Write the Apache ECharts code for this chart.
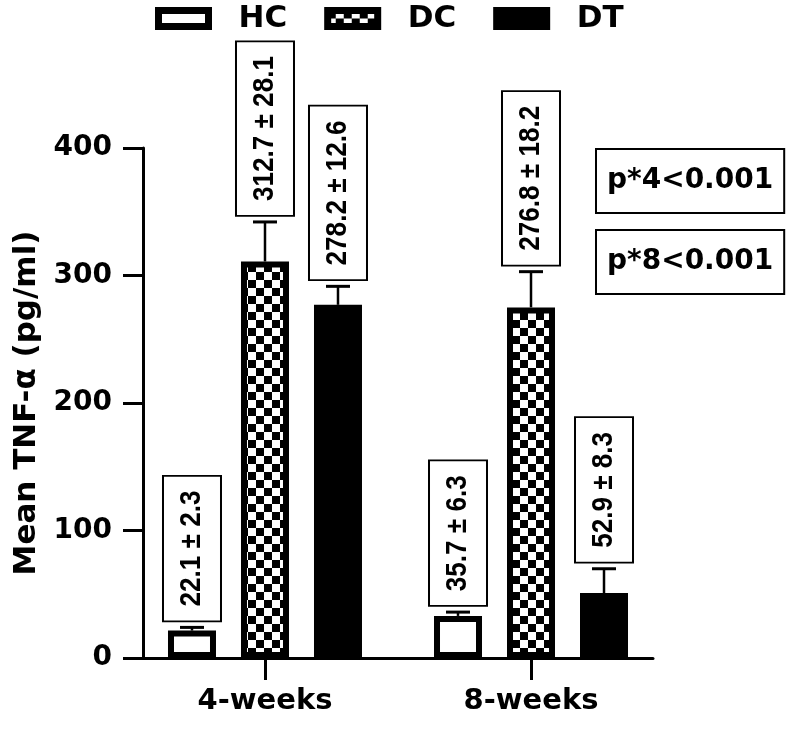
<!DOCTYPE html>
<html>
<head>
<meta charset="utf-8">
<script src="https://cdn.jsdelivr.net/npm/echarts@6/dist/echarts.min.js"></script>
<style>
html,body{margin:0;padding:0;background:#fff;}
#chart{width:793px;height:732px;}
</style>
</head>
<body>
<div id="chart"></div>
<script>
// ---- data ----
const categories = ['4-weeks', '8-weeks'];
const seriesNames = ['HC', 'DC', 'DT'];
const hcMean = [21.5, 33];
const hcErr = [2.5, 3];
const dcMean = [311, 275];
const dcErr = [31, 28];
const dtMean = [277, 51];
const dtErr = [14.5, 19];
const hcLabels = ['22.1 ± 2.3', '35.7 ± 6.3'];
const dcLabels = ['312.7 ± 28.1', '276.8 ± 18.2'];
const dtLabels = ['278.2 ± 12.6', '52.9 ± 8.3'];
const pLabels = ['p*4<0.001', 'p*8<0.001'];
const yMin = 0, yMax = 400, yInterval = 100;

// ---- styling ----
const FONT = '"DejaVu Sans", sans-serif';
const BAR_W = 48, BAR_B = 6, BAR_STEP = 73;

const CS = 8;
const cv = document.createElement('canvas');
cv.width = CS * 2; cv.height = CS * 2;
const cx2 = cv.getContext('2d');
cx2.fillStyle = '#fff'; cx2.fillRect(0, 0, CS * 2, CS * 2);
cx2.fillStyle = '#000'; cx2.fillRect(0, 0, CS, CS); cx2.fillRect(CS, CS, CS, CS);
const checker = {image: cv, repeat: 'repeat'};

const styles = [
  {color: '#fff', borderColor: '#000', borderWidth: BAR_B},
  {color: checker, borderColor: '#000', borderWidth: BAR_B},
  {color: '#000', borderColor: '#000', borderWidth: BAR_B}
];

const means = [hcMean, dcMean, dtMean];
const errs = [hcErr, dcErr, dtErr];
const labels = [hcLabels, dcLabels, dtLabels];

const series = [];
seriesNames.forEach((name, s) => {
  series.push({
    name: name,
    type: 'bar',
    barWidth: BAR_W,
    barGap: ((BAR_STEP - BAR_W) / BAR_W * 100) + '%',
    itemStyle: styles[s],
    data: categories.map((c, i) => [i, means[s][i]]),
    z: 2
  });
});
seriesNames.forEach((name, s) => {
  const off = (s - 1) * BAR_STEP;
  series.push({
    name: name + '-err',
    type: 'custom',
    clip: false,
    z: 3,
    data: categories.map((c, i) => [i, means[s][i], errs[s][i], i]),
    encode: {x: 0, y: 1},
    renderItem: function (params, api) {
      const xv = api.value(0), m = api.value(1), e = api.value(2), idx = api.value(3);
      const base = api.coord([xv, m]);
      const top = api.coord([xv, m + e]);
      const x = base[0] + off;
      return {
        type: 'group',
        children: [
          {type: 'line', shape: {x1: x, y1: base[1], x2: x, y2: top[1]}, style: {stroke: '#000', lineWidth: 2.5}},
          {type: 'line', shape: {x1: x - 12, y1: top[1], x2: x + 12, y2: top[1]}, style: {stroke: '#000', lineWidth: 3}},
          {
            type: 'text', x: x, y: top[1] - 7, rotation: Math.PI / 2, scaleX: 0.87,
            style: {
              text: labels[s][idx],
              font: 'bold 30px "Liberation Sans", Arial, sans-serif',
              fill: '#000', align: 'left', verticalAlign: 'middle',
              backgroundColor: '#fff', borderColor: '#000', borderWidth: 2,
              padding: [13, 16, 13, 16], lineHeight: 30
            }
          }
        ]
      };
    }
  });
});

const chart = echarts.init(document.getElementById('chart'), null, {renderer: 'canvas'});
chart.setOption({
  animation: false,
  backgroundColor: '#fff',
  grid: {left: 143, right: 140, top: 148, bottom: 74},
  legend: {
    left: 150, top: -2,
    itemWidth: 50, itemHeight: 16, itemGap: 37,
    selectedMode: false,
    textStyle: {fontFamily: FONT, fontWeight: 'bold', fontSize: 31, color: '#000', padding: [0, 0, 0, 25]},
    data: seriesNames.map((n, s) => ({name: n, icon: 'rect', itemStyle: Object.assign({}, styles[s], {borderWidth: 7})}))
  },
  xAxis: {
    type: 'value',
    min: -0.4586, max: 1.4586,
    splitLine: {show: false},
    axisLine: {show: true, onZero: false, lineStyle: {color: '#000', width: 3}},
    axisTick: {show: true, inside: false, length: 22, lineStyle: {color: '#000', width: 3}, customValues: [0, 1]},
    axisLabel: {
      customValues: [0, 1], margin: 29,
      fontFamily: FONT, fontWeight: 'bold', fontSize: 29, color: '#000',
      formatter: v => categories[Math.round(v)]
    }
  },
  yAxis: {
    type: 'value',
    min: yMin, max: yMax, interval: yInterval,
    name: 'Mean TNF-α (pg/ml)',
    nameLocation: 'middle', nameGap: 100,
    nameTextStyle: {fontFamily: FONT, fontWeight: 'bold', fontSize: 31, color: '#000'},
    splitLine: {show: false},
    axisLine: {show: true, onZero: false, lineStyle: {color: '#000', width: 3}},
    axisTick: {show: true, inside: false, length: 20, lineStyle: {color: '#000', width: 3}},
    axisLabel: {margin: 31, fontFamily: FONT, fontWeight: 'bold', fontSize: 28, color: '#000'}
  },
  graphic: pLabels.map((t, i) => ({
    type: 'text',
    left: 595, top: 148 + i * 81,
    style: {
      text: t, font: 'bold 28px "DejaVu Sans", sans-serif', fill: '#000',
      backgroundColor: '#fff', borderColor: '#000', borderWidth: 2,
      padding: [16, 10, 16, 10], lineHeight: 30
    }
  })),
  series: series
});
</script>
</body>
</html>
